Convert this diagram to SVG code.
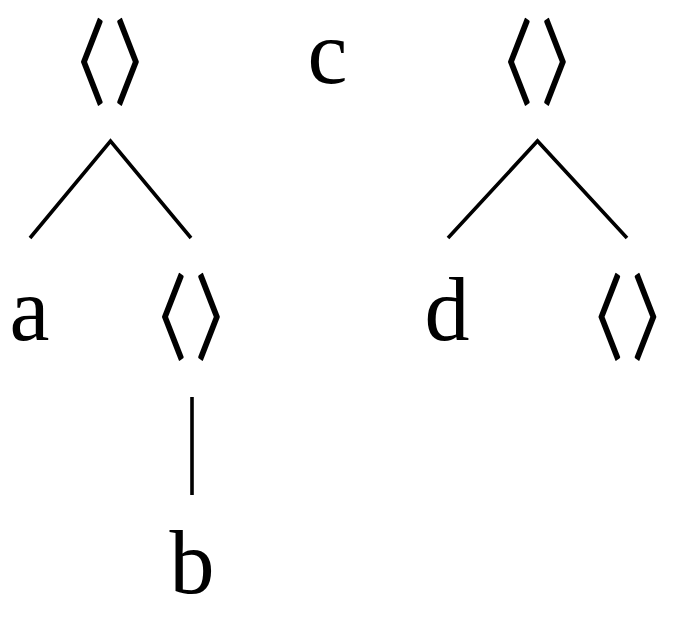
<svg xmlns="http://www.w3.org/2000/svg" width="676" height="617" viewBox="0 0 676 617">
<style>
.lbl{font-family:"Liberation Serif","DejaVu Serif",serif;font-size:90px;fill:#000;text-anchor:middle}
.br{font-family:"Noto Sans CJK JP","Noto Sans CJK SC",sans-serif;font-size:92px;fill:#000;stroke:#000;stroke-width:2.4;stroke-linejoin:round}
.e{stroke:#000;stroke-width:3.6;fill:none;stroke-linecap:butt;stroke-linejoin:miter}
</style>
<rect width="676" height="617" fill="#fff"/>
<g id="edges">
<polyline class="e" points="30,238 110.5,141 191,238"/>
<polyline class="e" points="448,238 537.5,141 627,238"/>
<line class="e" x1="192" y1="397" x2="192" y2="495"/>
</g>
<g id="n1"><text class="br" transform="translate(110.5,96.7) scale(0.61,1)" x="-101.2">〈<tspan dx="16.6">〉</tspan></text></g>
<g id="n2"><text class="lbl" x="327.5" y="83">c</text></g>
<g id="n3"><text class="br" transform="translate(537.5,96.7) scale(0.61,1)" x="-101.2">〈<tspan dx="16.6">〉</tspan></text></g>
<g id="n4"><text class="lbl" x="29.5" y="340">a</text></g>
<g id="n5"><text class="br" transform="translate(191.5,351.7) scale(0.61,1)" x="-101.2">〈<tspan dx="16.6">〉</tspan></text></g>
<g id="n6"><text class="lbl" x="447" y="340">d</text></g>
<g id="n7"><text class="br" transform="translate(628,351.7) scale(0.61,1)" x="-101.2">〈<tspan dx="16.6">〉</tspan></text></g>
<g id="n8"><text class="lbl" x="192" y="593">b</text></g>
</svg>
